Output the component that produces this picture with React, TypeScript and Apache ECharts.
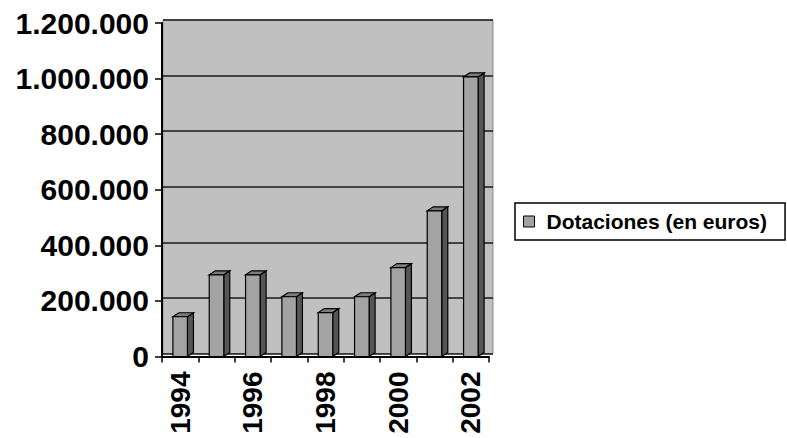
import React, { useEffect, useRef } from "react";
import * as echarts from "echarts";

const years = ["1994", "1995", "1996", "1997", "1998", "1999", "2000", "2001", "2002"];
const dotaciones = [143000, 294000, 294000, 215000, 158000, 215000, 320000, 524000, 1006000];
const seriesName = "Dotaciones (en euros)";
const yMin = 0;
const yMax = 1200000;
const yInterval = 200000;

const fmt = (v: number) => String(v).replace(/\B(?=(\d{3})+(?!\d))/g, ".");

export default function App() {
  const ref = useRef<HTMLDivElement>(null);
  useEffect(() => {
    if (!ref.current) return;
    const chart = echarts.init(ref.current, null, { renderer: "svg" });
    const font = "'Liberation Sans', Arial, sans-serif";
    const DX = 6;
    const DY = -4;
    chart.setOption({
      animation: false,
      backgroundColor: "#ffffff",
      grid: [
        {
          left: 163,
          right: 294,
          top: 20,
          bottom: 84.5,
          show: true,
          backgroundColor: "#c0c0c0",
          borderColor: "#8a8a8a",
          borderWidth: 1,
          outerBoundsMode: "none",
          containLabel: false,
        },
        {
          left: 162,
          right: 298,
          top: 23,
          bottom: 81.5,
          outerBoundsMode: "none",
          containLabel: false,
        },
      ],
      xAxis: [
        {
          gridIndex: 0,
          type: "category",
          data: years,
          show: false,
        },
        {
          gridIndex: 1,
          type: "category",
          data: years,
          axisLine: { show: true, lineStyle: { color: "#000", width: 2 } },
          axisTick: { show: true, interval: 0, length: 6, lineStyle: { color: "#000", width: 1.5 } },
          axisLabel: {
            interval: 1,
            rotate: 90,
            margin: 15,
            color: "#000",
            fontFamily: font,
            fontWeight: "bold",
            fontSize: 28,
          },
        },
      ],
      yAxis: [
        {
          gridIndex: 0,
          type: "value",
          min: yMin,
          max: yMax,
          interval: yInterval,
          axisLine: { show: false },
          axisTick: { show: false },
          axisLabel: { show: false },
          splitLine: { show: true, lineStyle: { color: "#1a1a1a", width: 1.5 } },
        },
        {
          gridIndex: 1,
          type: "value",
          min: yMin,
          max: yMax,
          interval: yInterval,
          axisLine: { show: true, lineStyle: { color: "#000", width: 2 } },
          axisTick: { show: true, length: 7, lineStyle: { color: "#000", width: 1.5 } },
          splitLine: { show: false },
          axisLabel: {
            formatter: (v: number) => fmt(v),
            margin: 13,
            color: "#000",
            fontFamily: font,
            fontWeight: "bold",
            fontSize: 30,
          },
        },
      ],
      legend: {
        left: 515,
        top: 203,
        orient: "vertical",
        padding: [8, 18, 8, 8],
        borderColor: "#000",
        borderWidth: 1.5,
        backgroundColor: "#fff",
        itemWidth: 11,
        itemHeight: 11,
        icon: "rect",
        data: [
          {
            name: seriesName,
            itemStyle: { color: "#a3a3a3", borderColor: "#000", borderWidth: 1 },
          },
        ],
        textStyle: {
          color: "#000",
          fontFamily: font,
          fontWeight: "bold",
          fontSize: 21,
          padding: [0, 0, 0, 7],
        },
      },
      series: [
        {
          name: seriesName,
          type: "custom",
          xAxisIndex: 1,
          yAxisIndex: 1,
          itemStyle: { color: "#a3a3a3", borderColor: "#000", borderWidth: 1 },
          data: dotaciones.map((v, i) => [i, v]),
          renderItem: (params: any, api: any) => {
            const idx = api.value(0);
            const val = api.value(1);
            const base = api.coord([idx, 0]);
            const top = api.coord([idx, val]);
            const bw = api.size([1, 0])[0] * 0.4;
            const x0 = base[0] - bw / 2;
            const x1 = base[0] + bw / 2;
            const yb = base[1];
            const yt = top[1];
            const stroke = { stroke: "#000", lineWidth: 1.2 };
            return {
              type: "group",
              children: [
                {
                  type: "polygon",
                  shape: {
                    points: [
                      [x1, yb],
                      [x1 + DX, yb + DY],
                      [x1 + DX, yt + DY],
                      [x1, yt],
                    ],
                  },
                  style: { fill: "#555555", ...stroke },
                },
                {
                  type: "polygon",
                  shape: {
                    points: [
                      [x0, yt],
                      [x1, yt],
                      [x1 + DX, yt + DY],
                      [x0 + DX, yt + DY],
                    ],
                  },
                  style: { fill: "#7d7d7d", ...stroke },
                },
                {
                  type: "rect",
                  shape: { x: x0, y: yt, width: bw, height: yb - yt },
                  style: { fill: "#a3a3a3", ...stroke },
                },
              ],
            };
          },
        },
      ],
    });
    return () => chart.dispose();
  }, []);
  return (
    <div
      ref={ref}
      style={{ position: "absolute", left: 0, top: 0, width: 787, height: 438 }}
    />
  );
}
